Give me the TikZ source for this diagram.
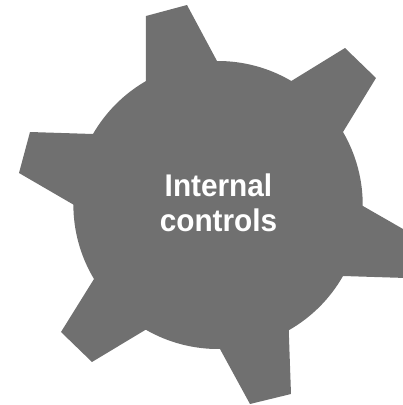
\documentclass[tikz,border=0pt]{standalone}
\usepackage{fontspec}
\setmainfont[FakeStretch=0.95]{Liberation Sans}
\definecolor{geargray}{HTML}{707070}
\tikzset{
  gearbody/.style={fill=geargray,draw=none},
  gearlabel/.style={text=white,align=center,font=\fontsize{23.5}{26.3}\selectfont\bfseries,inner sep=0pt}
}
\begin{document}
\begin{tikzpicture}[x=0.75pt,y=0.75pt]
\clip (0,0) rectangle (403,405);
% pixel coordinates: y is measured upward, 405 - row
\coordinate (c) at (218,200);
\path[gearbody]
  (146,325) -- (146,389) -- (187,400) -- (217,344)
  arc[start angle=90.4,end angle=59.5,radius=144.5]
  -- (345,357) -- (376,327) -- (343,273)
  arc[start angle=30.3,end angle=-0.4,radius=144.5]
  -- (417,168) -- (406,127) -- (343,129)
  arc[start angle=-29.6,end angle=-60.4,radius=144.5]
  -- (291,11) -- (250,1) -- (220,56)
  arc[start angle=-89.2,end angle=-120,radius=144.5]
  -- (92,43) -- (61,73) -- (94,126)
  arc[start angle=-149,end angle=-180,radius=144.5]
  -- (19,232) -- (30,273) -- (93,271)
  arc[start angle=150,end angle=120,radius=144.5]
  -- cycle;
\node[gearlabel] (label) at (218.5,202) {Internal\\controls};
\end{tikzpicture}
\end{document}
